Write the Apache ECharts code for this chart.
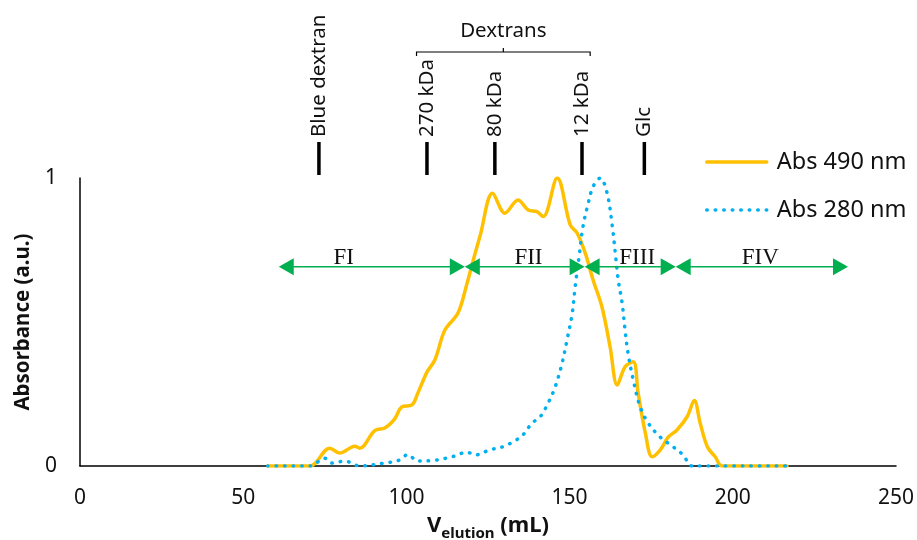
<!DOCTYPE html>
<html>
<head>
<meta charset="utf-8">
<script src="https://cdn.jsdelivr.net/npm/echarts@6/dist/echarts.min.js"></script>
<style>
  html, body { margin: 0; padding: 0; background: #fff; }
  #chart { width: 917px; height: 540px; }
</style>
</head>
<body>
<div id="chart"></div>
<script>
// Elution profile: absorbance at 490 nm (carbohydrate) and 280 nm (protein)
const volume490 = [57.5, 70.4, 76.5, 79.6, 84.2, 85.7, 90.3, 93.4, 96.2, 98.6, 101.7, 103.5, 106.3, 108.7, 111.8, 115.8, 118.6, 120.5, 122.6, 126.4, 130.2, 134.2, 137.3, 140, 141.9, 146.2, 150.2, 152.3, 154.8, 157.2, 159.9, 162.4, 164.6, 167, 169.5, 171, 173.2, 175.3, 177.8, 180.2, 182.9, 186, 188.2, 190, 192.2, 194.6, 196.8, 216.6];
const abs490 = [0, 0, 0.062, 0.045, 0.069, 0.062, 0.123, 0.132, 0.16, 0.205, 0.212, 0.253, 0.326, 0.368, 0.472, 0.531, 0.635, 0.715, 0.80, 0.947, 0.878, 0.924, 0.889, 0.883, 0.866, 1.0, 0.837, 0.809, 0.739, 0.646, 0.553, 0.414, 0.281, 0.345, 0.362, 0.253, 0.115, 0.032, 0.056, 0.10, 0.125, 0.171, 0.227, 0.149, 0.067, 0.032, 0, 0];

const volume280 = [57.5, 70.4, 75, 77.1, 81.1, 85.7, 93.1, 98, 100.4, 103.5, 108.7, 114, 118.6, 121, 125.6, 129.6, 132.7, 135.7, 138.5, 141, 143.4, 145.6, 147.7, 149.2, 150.8, 151.7, 152.9, 154.1, 155.7, 157.2, 159.4, 161.5, 163.1, 164, 164.9, 166.1, 167, 167.9, 169.5, 171.6, 174.1, 177.8, 181.7, 184.8, 187.6, 216.6];
const abs280 = [0, 0, 0.027, 0.01, 0.017, 0, 0.01, 0.021, 0.04, 0.017, 0.02, 0.032, 0.048, 0.038, 0.056, 0.067, 0.084, 0.108, 0.149, 0.171, 0.218, 0.275, 0.357, 0.437, 0.530, 0.623, 0.727, 0.831, 0.912, 0.970, 1.0, 0.947, 0.831, 0.739, 0.646, 0.565, 0.472, 0.392, 0.299, 0.206, 0.149, 0.10, 0.067, 0.038, 0, 0];

// Calibration standards (elution volumes, mL)
const markerNames = ['Blue dextran', '270 kDa', '80 kDa', '12 kDa', 'Glc'];
const markerVolumes = [73.2, 106.3, 127.1, 153.8, 172.9];
const dextranGroupLabel = 'Dextrans';
const dextranGroupRange = [103.1, 156.3];

// Pooled fractions
const fractionNames = ['FI', 'FII', 'FIII', 'FIV'];
const fractionStart = [60.9, 117.9, 154.6, 182.5];
const fractionEnd = [117.9, 154.6, 182.5, 235.3];
const fractionLabelX = [80.8, 137.4, 170.7, 208.4];
const fractionLevel = 0.692;

const seriesNames = ['Abs 490 nm', 'Abs 280 nm'];
const xTicks = { min: 0, max: 250, interval: 50 };
const yTicks = { min: 0, max: 1, interval: 1 };

const SANS = '"Noto Sans", "DejaVu Sans", sans-serif';
const SERIF = '"Liberation Serif", "DejaVu Serif", serif';
const GREEN = '#00B050';

function zip(xs, ys) { return xs.map((x, i) => [x, ys[i]]); }

const chart = echarts.init(document.getElementById('chart'), null, { renderer: 'canvas' });

const option = {
  animation: false,
  backgroundColor: '#fff',
  textStyle: { fontFamily: SANS },
  grid: { left: 80, right: 21, top: 178, bottom: 74, containLabel: false, outerBoundsMode: 'none' },
  legend: {
    orient: 'vertical',
    left: 705,
    top: 150,
    itemWidth: 60,
    itemHeight: 14,
    itemGap: 24,
    padding: 0,
    data: seriesNames,
    itemStyle: { opacity: 0 },
    lineStyle: { width: 3.5 },
    textStyle: { fontFamily: SANS, fontSize: 23.5, color: '#111', padding: [0, 0, 0, 5] }
  },
  xAxis: {
    type: 'value',
    min: xTicks.min, max: xTicks.max, interval: xTicks.interval,
    name: '{a|V}{b|elution}{a| (mL)}',
    nameLocation: 'middle',
    nameGap: 45,
    nameTextStyle: {
      rich: {
        a: { fontFamily: SANS, fontSize: 22, fontWeight: 'bold', color: '#111', lineHeight: 30, verticalAlign: 'middle' },
        b: { fontFamily: SANS, fontSize: 15, fontWeight: 'bold', color: '#111', lineHeight: 30, verticalAlign: 'bottom' }
      }
    },
    axisLine: { show: true, onZero: false, lineStyle: { color: '#000', width: 1.5 } },
    axisTick: { show: false },
    splitLine: { show: false },
    axisLabel: { fontFamily: SANS, fontSize: 21, color: '#111', margin: 22 }
  },
  yAxis: {
    type: 'value',
    min: yTicks.min, max: yTicks.max, interval: yTicks.interval,
    name: 'Absorbance (a.u.)',
    nameLocation: 'middle',
    nameGap: 40,
    nameTextStyle: { fontFamily: SANS, fontSize: 20.5, fontWeight: 'bold', color: '#111' },
    axisLine: { show: true, lineStyle: { color: '#000', width: 1.5 } },
    axisTick: { show: false },
    splitLine: { show: false },
    axisLabel: { fontFamily: SANS, fontSize: 21, color: '#111', margin: 23 }
  },
  series: [
    {
      name: seriesNames[0],
      type: 'line',
      data: zip(volume490, abs490),
      smooth: 0.35,
      showSymbol: false,
      symbol: 'none',
      color: '#FFC000',
      lineStyle: { color: '#FFC000', width: 3.5, cap: 'round', join: 'round' },
      z: 3
    },
    {
      name: seriesNames[1],
      type: 'line',
      data: zip(volume280, abs280),
      smooth: 0.35,
      showSymbol: false,
      symbol: 'none',
      color: '#00B0F0',
      lineStyle: { color: '#00B0F0', width: 3.5, type: [0.5, 8], cap: 'round' },
      z: 4
    },
    {
      // fraction arrows with labels
      type: 'custom',
      coordinateSystem: 'cartesian2d',
      silent: true,
      clip: false,
      z: 5,
      data: fractionNames.map((n, i) => [fractionStart[i], fractionLevel, fractionEnd[i], fractionLabelX[i]]),
      renderItem: function (params, api) {
        const i = params.dataIndex;
        const p0 = api.coord([api.value(0), api.value(1)]);
        const p1 = api.coord([api.value(2), api.value(1)]);
        const pl = api.coord([api.value(3), api.value(1)]);
        const L = 15, H = 8.5;
        const y = p0[1];
        return {
          type: 'group',
          children: [
            { type: 'line', shape: { x1: p0[0] + L - 1, y1: y, x2: p1[0] - L + 1, y2: y }, style: { stroke: GREEN, lineWidth: 1.5 } },
            { type: 'polygon', shape: { points: [[p0[0], y], [p0[0] + L, y - H], [p0[0] + L, y + H]] }, style: { fill: GREEN } },
            { type: 'polygon', shape: { points: [[p1[0], y], [p1[0] - L, y - H], [p1[0] - L, y + H]] }, style: { fill: GREEN } },
            { type: 'text', x: pl[0], y: y - 9, style: { text: fractionNames[i], fontFamily: SERIF, fontSize: 23, fill: '#111', align: 'center', verticalAlign: 'middle' } }
          ]
        };
      }
    },
    {
      // calibration markers above the plot
      type: 'custom',
      coordinateSystem: 'cartesian2d',
      silent: true,
      clip: false,
      z: 5,
      data: markerVolumes.map((v) => [v, 1]),
      renderItem: function (params, api) {
        const i = params.dataIndex;
        const top = api.coord([api.value(0), api.value(1)]);
        const x = top[0];
        const y0 = top[1];
        return {
          type: 'group',
          children: [
            { type: 'line', shape: { x1: x, y1: y0 - 3, x2: x, y2: y0 - 36 }, style: { stroke: '#000', lineWidth: 3.5 } },
            { type: 'text', x: x, y: y0 - 41, rotation: Math.PI / 2,
              style: { text: markerNames[i], x: 0, y: 0, fontFamily: SANS, fontSize: 20.5, fill: '#111', align: 'left', verticalAlign: 'middle' } }
          ]
        };
      }
    },
    {
      // bracket grouping the dextran standards
      type: 'custom',
      coordinateSystem: 'cartesian2d',
      silent: true,
      clip: false,
      z: 5,
      data: [[dextranGroupRange[0], 1, dextranGroupRange[1]]],
      renderItem: function (params, api) {
        const a = api.coord([api.value(0), api.value(1)]);
        const b = api.coord([api.value(2), api.value(1)]);
        const y = a[1] - 126;
        const mid = (a[0] + b[0]) / 2;
        return {
          type: 'group',
          children: [
            { type: 'polyline', shape: { points: [[a[0], y + 4], [a[0], y], [b[0], y], [b[0], y + 4]] }, style: { stroke: '#000', lineWidth: 1.2, fill: null } },
            { type: 'line', shape: { x1: mid, y1: y, x2: mid, y2: y - 4 }, style: { stroke: '#000', lineWidth: 1.2 } },
            { type: 'text', x: mid, y: y - 21, style: { text: dextranGroupLabel, fontFamily: SANS, fontSize: 20.5, fill: '#111', align: 'center', verticalAlign: 'middle' } }
          ]
        };
      }
    }
  ]
};

chart.setOption(option);
</script>
</body>
</html>
